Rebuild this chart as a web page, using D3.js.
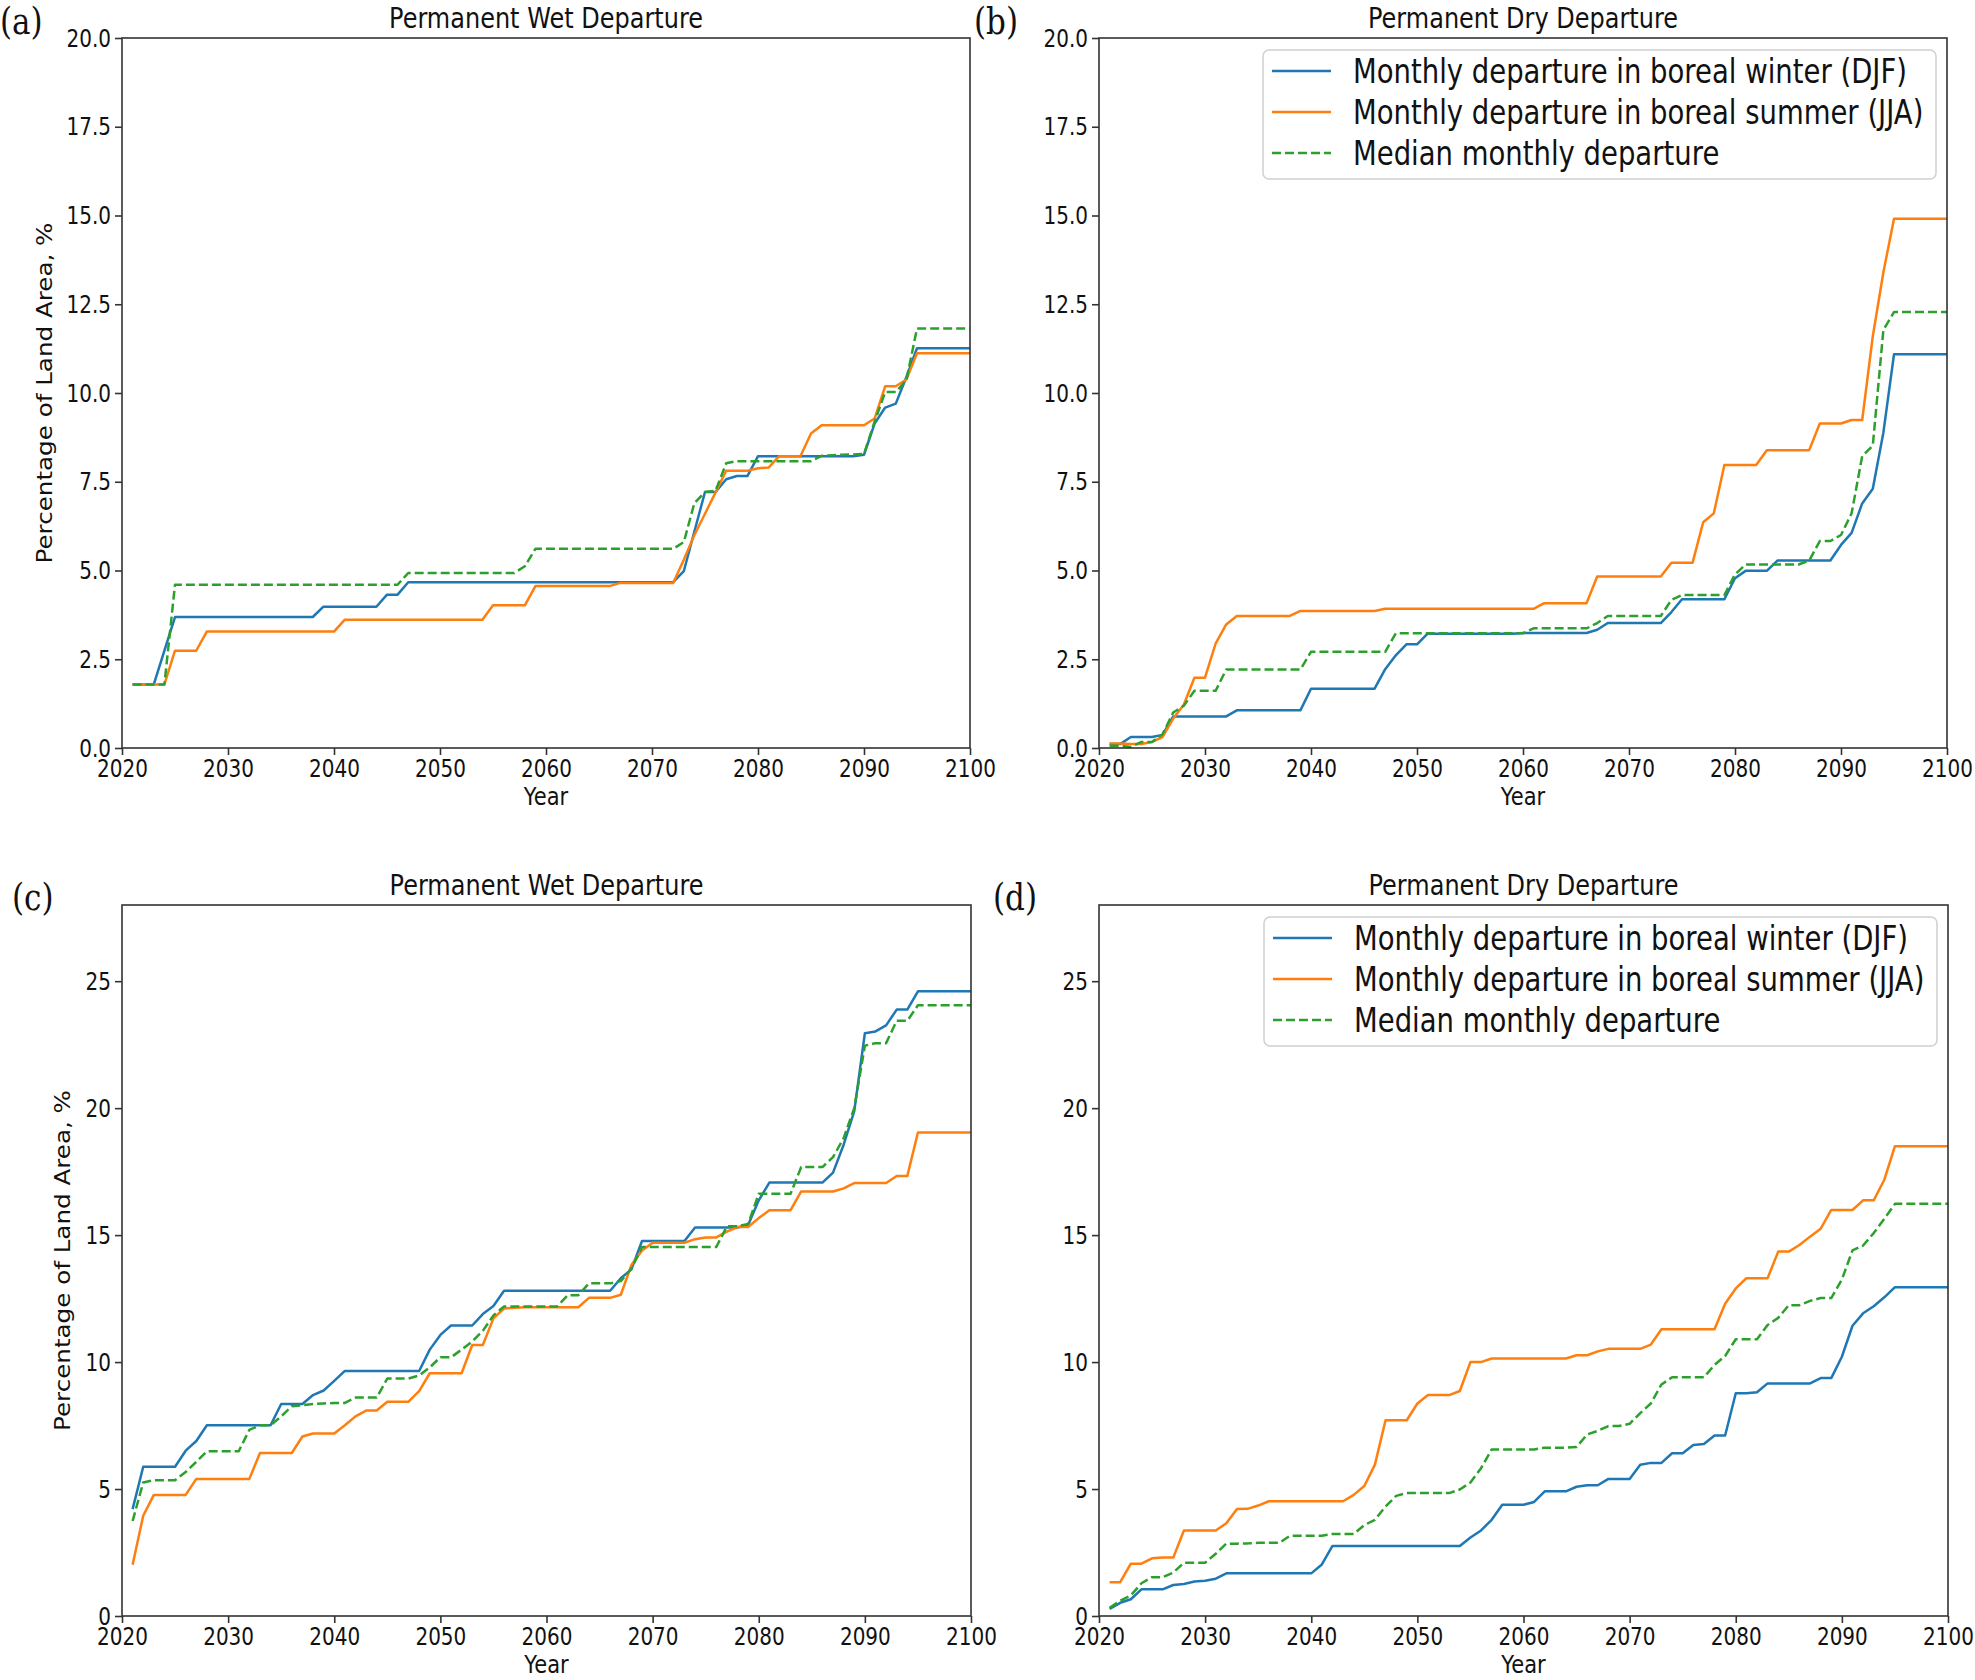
<!DOCTYPE html>
<html>
<head>
<meta charset="utf-8">
<script src="https://cdn.jsdelivr.net/npm/d3@7/dist/d3.min.js"></script>
<style>
    body { margin: 0; background: #fff; }
</style>
</head>
<body>
<svg id="fig" width="1975" height="1680"></svg>
<script>

    /**
     * yearly values, 2021 .. 2100 (one row per decade)
     */
    var years = d3.range(2021, 2101);

    // (a) permanent wet departure
    var wetWinterA = [
        1.79,1.79,1.79,2.74,3.69,3.69,3.69,3.69,3.69,3.69,
        3.69,3.69,3.69,3.69,3.69,3.69,3.69,3.69,3.98,3.98,
        3.98,3.98,3.98,3.98,4.32,4.32,4.67,4.67,4.67,4.67,
        4.67,4.67,4.67,4.67,4.67,4.67,4.67,4.67,4.67,4.67,
        4.67,4.67,4.67,4.67,4.67,4.67,4.67,4.67,4.67,4.67,
        4.67,4.67,4.98,6.10,7.21,7.21,7.57,7.66,7.66,8.22,
        8.22,8.22,8.22,8.22,8.22,8.22,8.22,8.22,8.22,8.26,
        9.14,9.59,9.70,10.45,11.26,11.26,11.26,11.26,11.26,11.26
    ];
    var wetSummerA = [
        1.79,1.79,1.79,1.79,2.74,2.74,2.74,3.28,3.28,3.28,
        3.28,3.28,3.28,3.28,3.28,3.28,3.28,3.28,3.28,3.28,
        3.61,3.61,3.61,3.61,3.61,3.61,3.61,3.61,3.61,3.61,
        3.61,3.61,3.61,3.61,4.02,4.02,4.02,4.02,4.56,4.56,
        4.56,4.56,4.56,4.56,4.56,4.56,4.65,4.65,4.65,4.65,
        4.65,4.65,5.30,6.00,6.60,7.20,7.81,7.81,7.81,7.88,
        7.90,8.22,8.22,8.22,8.86,9.09,9.09,9.09,9.09,9.09,
        9.28,10.19,10.19,10.38,11.12,11.12,11.12,11.12,11.12,11.12
    ];
    var wetMedianA = [
        1.79,1.79,1.79,1.79,4.60,4.60,4.60,4.60,4.60,4.60,
        4.60,4.60,4.60,4.60,4.60,4.60,4.60,4.60,4.60,4.60,
        4.60,4.60,4.60,4.60,4.60,4.60,4.93,4.93,4.93,4.93,
        4.93,4.93,4.93,4.93,4.93,4.93,4.93,5.12,5.61,5.61,
        5.61,5.61,5.61,5.61,5.61,5.61,5.61,5.61,5.61,5.61,
        5.61,5.61,5.80,6.90,7.21,7.25,8.02,8.08,8.08,8.08,
        8.08,8.08,8.08,8.08,8.08,8.23,8.25,8.26,8.27,8.28,
        9.19,10.03,10.03,10.36,11.82,11.82,11.82,11.82,11.82,11.82
    ];

    // (b) permanent dry departure
    var dryWinterB = [
        0.11,0.11,0.31,0.31,0.31,0.37,0.89,0.89,0.89,0.89,
        0.89,0.89,1.06,1.06,1.06,1.06,1.06,1.06,1.06,1.67,
        1.67,1.67,1.67,1.67,1.67,1.67,2.22,2.61,2.92,2.92,
        3.22,3.22,3.22,3.22,3.22,3.22,3.22,3.22,3.22,3.24,
        3.24,3.24,3.24,3.24,3.24,3.24,3.33,3.52,3.52,3.52,
        3.52,3.52,3.52,3.83,4.19,4.19,4.19,4.19,4.19,4.78,
        4.99,4.99,4.99,5.28,5.28,5.28,5.28,5.28,5.28,5.72,
        6.06,6.89,7.30,8.89,11.09,11.09,11.09,11.09,11.09,11.09
    ];
    var drySummerB = [
        0.13,0.13,0.11,0.11,0.17,0.31,0.83,1.22,1.98,1.98,
        2.94,3.48,3.72,3.72,3.72,3.72,3.72,3.72,3.86,3.86,
        3.86,3.86,3.86,3.86,3.86,3.86,3.92,3.92,3.92,3.92,
        3.92,3.92,3.92,3.92,3.92,3.92,3.92,3.92,3.92,3.92,
        3.92,4.08,4.08,4.08,4.08,4.08,4.83,4.83,4.83,4.83,
        4.83,4.83,4.83,5.22,5.22,5.22,6.36,6.61,7.97,7.97,
        7.97,7.97,8.39,8.39,8.39,8.39,8.39,9.14,9.14,9.14,
        9.24,9.24,11.60,13.40,14.91,14.91,14.91,14.91,14.91,14.91
    ];
    var dryMedianB = [
        0.06,0.06,0.03,0.17,0.17,0.39,1.00,1.19,1.61,1.61,
        1.61,2.21,2.21,2.21,2.21,2.21,2.21,2.21,2.21,2.71,
        2.71,2.71,2.71,2.71,2.71,2.71,2.71,3.23,3.23,3.23,
        3.23,3.23,3.23,3.23,3.23,3.23,3.23,3.23,3.23,3.23,
        3.37,3.37,3.37,3.37,3.37,3.37,3.52,3.72,3.72,3.72,
        3.72,3.72,3.72,4.17,4.31,4.31,4.31,4.31,4.31,4.89,
        5.17,5.17,5.17,5.17,5.17,5.17,5.28,5.83,5.83,6.00,
        6.61,8.22,8.52,11.78,12.28,12.28,12.28,12.28,12.28,12.28
    ];

    // (c) permanent wet departure
    var wetWinterC = [
        4.21,5.88,5.88,5.88,5.88,6.51,6.89,7.51,7.51,7.51,
        7.51,7.51,7.51,7.51,8.35,8.35,8.35,8.70,8.88,9.26,
        9.65,9.65,9.65,9.65,9.65,9.65,9.65,9.65,10.49,11.07,
        11.44,11.44,11.44,11.89,12.21,12.81,12.81,12.81,12.81,12.81,
        12.81,12.81,12.81,12.81,12.81,12.81,13.30,13.65,14.77,14.77,
        14.77,14.77,14.77,15.30,15.30,15.30,15.30,15.30,15.40,16.37,
        17.07,17.07,17.07,17.07,17.07,17.07,17.46,18.56,19.88,22.95,
        23.02,23.26,23.88,23.88,24.60,24.60,24.60,24.60,24.60,24.60
    ];
    var wetSummerC = [
        2.02,3.95,4.77,4.77,4.77,4.77,5.40,5.40,5.40,5.40,
        5.40,5.40,6.42,6.42,6.42,6.42,7.07,7.19,7.19,7.19,
        7.51,7.86,8.09,8.09,8.44,8.44,8.44,8.86,9.56,9.56,
        9.56,9.56,10.67,10.67,11.72,12.11,12.14,12.16,12.16,12.16,
        12.16,12.16,12.16,12.53,12.53,12.53,12.65,13.82,14.39,14.70,
        14.70,14.70,14.70,14.84,14.91,14.91,15.14,15.32,15.32,15.67,
        15.98,15.98,15.98,16.72,16.72,16.72,16.72,16.84,17.05,17.05,
        17.05,17.05,17.33,17.33,19.04,19.04,19.04,19.04,19.04,19.04
    ];
    var wetMedianC = [
        3.74,5.26,5.35,5.35,5.35,5.67,6.07,6.49,6.49,6.49,
        6.49,7.33,7.51,7.51,7.86,8.26,8.30,8.35,8.37,8.39,
        8.39,8.60,8.60,8.60,9.35,9.35,9.35,9.47,9.79,10.19,
        10.19,10.49,10.81,11.23,11.84,12.19,12.19,12.19,12.19,12.19,
        12.19,12.63,12.63,13.10,13.10,13.10,13.19,13.68,14.53,14.53,
        14.53,14.53,14.53,14.53,14.53,14.53,15.35,15.35,15.44,16.63,
        16.63,16.63,16.63,17.68,17.68,17.68,18.07,18.82,20.00,22.46,
        22.56,22.56,23.44,23.44,24.05,24.05,24.05,24.05,24.05,24.05
    ];

    // (d) permanent dry departure
    var dryWinterD = [
        0.28,0.52,0.66,1.05,1.05,1.05,1.22,1.26,1.36,1.39,
        1.47,1.68,1.68,1.68,1.68,1.68,1.68,1.68,1.68,1.68,
        2.03,2.76,2.76,2.76,2.76,2.76,2.76,2.76,2.76,2.76,
        2.76,2.76,2.76,2.76,3.09,3.37,3.79,4.38,4.38,4.38,
        4.49,4.91,4.91,4.91,5.09,5.15,5.15,5.40,5.40,5.40,
        5.96,6.03,6.03,6.41,6.41,6.73,6.77,7.11,7.11,8.77,
        8.77,8.81,9.16,9.16,9.16,9.16,9.16,9.37,9.37,10.21,
        11.43,11.92,12.20,12.55,12.95,12.95,12.95,12.95,12.95,12.95
    ];
    var drySummerD = [
        1.33,1.33,2.06,2.06,2.27,2.30,2.30,3.37,3.37,3.37,
        3.37,3.65,4.21,4.22,4.35,4.52,4.52,4.52,4.52,4.52,
        4.52,4.52,4.52,4.77,5.12,5.96,7.71,7.71,7.71,8.37,
        8.70,8.70,8.70,8.86,10.00,10.00,10.14,10.14,10.14,10.14,
        10.14,10.14,10.14,10.14,10.27,10.27,10.42,10.52,10.52,10.52,
        10.52,10.69,11.29,11.29,11.29,11.29,11.29,11.29,12.30,12.90,
        13.30,13.30,13.30,14.35,14.35,14.61,14.94,15.25,15.99,15.99,
        15.99,16.37,16.37,17.18,18.50,18.50,18.50,18.50,18.50,18.50
    ];
    var dryMedianD = [
        0.32,0.60,0.81,1.29,1.53,1.53,1.71,2.10,2.10,2.10,
        2.45,2.85,2.85,2.86,2.88,2.88,2.88,3.16,3.16,3.16,
        3.16,3.23,3.23,3.23,3.58,3.79,4.31,4.73,4.84,4.84,
        4.84,4.84,4.84,4.98,5.26,5.82,6.56,6.56,6.56,6.56,
        6.56,6.63,6.63,6.63,6.66,7.15,7.29,7.48,7.48,7.57,
        7.99,8.37,9.12,9.40,9.40,9.40,9.40,9.89,10.24,10.90,
        10.90,10.90,11.46,11.74,12.24,12.24,12.41,12.52,12.52,13.25,
        14.40,14.59,15.08,15.64,16.23,16.23,16.23,16.23,16.23,16.23
    ];

    var xTicks = d3.range(2020, 2101, 10);
    var yTicksTop = [0, 2.5, 5, 7.5, 10, 12.5, 15, 17.5, 20];
    var yTicksBottom = [0, 5, 10, 15, 20, 25];

    var seriesNames = [
        "Monthly departure in boreal winter (DJF)",
        "Monthly departure in boreal summer (JJA)",
        "Median monthly departure"
    ];
    var seriesColors = ["#1f77b4", "#ff7f0e", "#2ca02c"];

    var SANS = "'DejaVu Sans', sans-serif";
    var SERIF = "'DejaVu Serif', serif";
    var STRETCH = 1.2;   // the figure is a bit taller than wide

    var svg = d3.select("#fig");

    var panels = [
        {tag: "(a)", tagX: 0,   tagY: 34,  title: "Permanent Wet Departure",
         left: 122,  top: 38,  w: 848, h: 710, ymax: 20, ticks: yTicksTop, fmt: d3.format(".1f"),
         series: [wetWinterA, wetSummerA, wetMedianA], ylabel: 52, legend: false},
        {tag: "(b)", tagX: 974, tagY: 34,  title: "Permanent Dry Departure",
         left: 1099, top: 38,  w: 848, h: 710, ymax: 20, ticks: yTicksTop, fmt: d3.format(".1f"),
         series: [dryWinterB, drySummerB, dryMedianB], ylabel: null, legend: true},
        {tag: "(c)", tagX: 12,  tagY: 910, title: "Permanent Wet Departure",
         left: 122,  top: 905, w: 849, h: 711, ymax: 28, ticks: yTicksBottom, fmt: d3.format("d"),
         series: [wetWinterC, wetSummerC, wetMedianC], ylabel: 70, legend: false},
        {tag: "(d)", tagX: 993, tagY: 910, title: "Permanent Dry Departure",
         left: 1099, top: 905, w: 849, h: 711, ymax: 28, ticks: yTicksBottom, fmt: d3.format("d"),
         series: [dryWinterD, drySummerD, dryMedianD], ylabel: null, legend: true}
    ];

    /**
     * text that is stretched vertically like the rest of the picture
     */
    function stretchText(g, x, y, str, size, anchor, family) {
        return g.append("text")
            .attr("transform", "translate(" + x + "," + y + ") scale(1," + STRETCH + ")")
            .attr("text-anchor", anchor || "start")
            .style("font-family", family || SANS)
            .style("font-size", size + "px")
            .style("fill", "#111")
            .text(str);
    }

    function drawPanel(p) {
        var x = d3.scaleLinear().domain([2020, 2100]).range([0, p.w]);
        var y = d3.scaleLinear().domain([0, p.ymax]).range([p.h, 0]);

        var g = svg.append("g").attr("transform", "translate(" + p.left + "," + p.top + ")");

        // x axis
        var gx = g.append("g")
            .attr("transform", "translate(0," + p.h + ")")
            .call(d3.axisBottom(x).tickValues(xTicks).tickFormat(d3.format("d")).tickSize(7).tickSizeOuter(0));
        gx.select(".domain").remove();
        gx.selectAll("line").attr("stroke", "#333").attr("stroke-width", 1.6);
        gx.selectAll("text")
            .attr("y", null).attr("dy", null)
            .attr("transform", "translate(0,29) scale(1," + STRETCH + ")")
            .style("font-family", SANS).style("font-size", "20px").style("fill", "#111");

        // y axis
        var gy = g.append("g")
            .call(d3.axisLeft(y).tickValues(p.ticks).tickFormat(p.fmt).tickSize(7).tickSizeOuter(0));
        gy.select(".domain").remove();
        gy.selectAll("line").attr("stroke", "#333").attr("stroke-width", 1.6);
        gy.selectAll("text")
            .attr("x", null).attr("dy", null)
            .attr("transform", "translate(-11,8.2) scale(1," + STRETCH + ")")
            .style("font-family", SANS).style("font-size", "20px").style("fill", "#111");

        // lines (median dashed, drawn last)
        var line = d3.line()
            .x(function (d, i) { return x(years[i]); })
            .y(function (d) { return y(d); });

        p.series.forEach(function (vals, k) {
            g.append("path")
                .datum(vals)
                .attr("d", line)
                .attr("fill", "none")
                .attr("stroke", seriesColors[k])
                .attr("stroke-width", 2.5)
                .attr("stroke-linejoin", "round")
                .attr("stroke-dasharray", k === 2 ? "9,4" : null);
        });

        // frame
        g.append("rect")
            .attr("width", p.w).attr("height", p.h)
            .attr("fill", "none").attr("stroke", "#333").attr("stroke-width", 1.6);

        // title and labels
        stretchText(g, p.w / 2, -10, p.title, 24, "middle");
        stretchText(g, p.w / 2, p.h + 57, "Year", 21, "middle");
        if (p.ylabel !== null) {
            g.append("text")
                .attr("transform", "translate(" + (p.ylabel - p.left) + "," + (p.h / 2) + ") scale(1," + STRETCH + ") rotate(-90)")
                .attr("text-anchor", "middle")
                .style("font-family", SANS).style("font-size", "20.5px").style("fill", "#111")
                .text("Percentage of Land Area, %");
        }

        stretchText(svg, p.tagX, p.tagY, p.tag, 31, "start", SERIF);

        if (p.legend) drawLegend(g, p);
    }

    function drawLegend(g, p) {
        var bw = 673, bh = 129;
        var lg = g.append("g").attr("transform", "translate(" + (p.w - 11 - bw) + ",12)");
        lg.append("rect")
            .attr("width", bw).attr("height", bh).attr("rx", 6)
            .attr("fill", "#fff").attr("fill-opacity", 0.8)
            .attr("stroke", "#d0d0d0").attr("stroke-width", 1.5);

        seriesNames.forEach(function (name, k) {
            var cy = 21 + k * 41;
            lg.append("line")
                .attr("x1", 9).attr("x2", 68).attr("y1", cy).attr("y2", cy)
                .attr("stroke", seriesColors[k]).attr("stroke-width", 2.5)
                .attr("stroke-dasharray", k === 2 ? "9,4" : null);
            stretchText(lg, 90, cy + 11.5, name, 27.5, "start");
        });
    }

    panels.forEach(drawPanel);

</script>
</body>
</html>
